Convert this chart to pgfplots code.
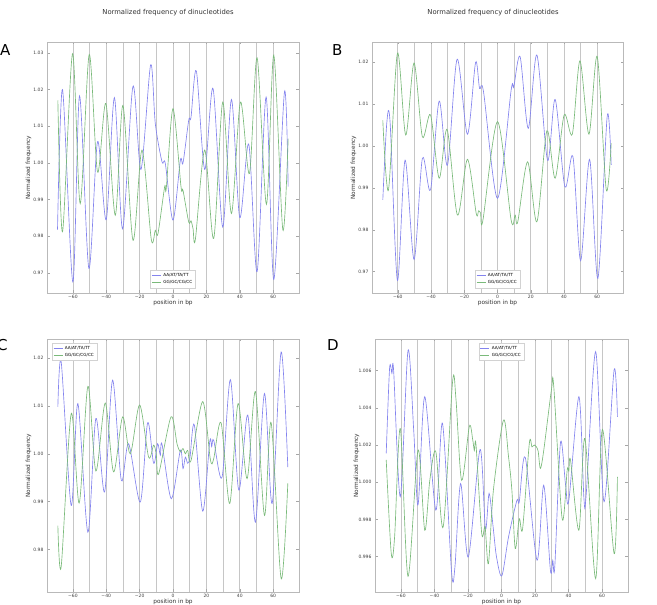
\documentclass[border=0pt]{standalone}
\usepackage{fontspec}
\setmainfont{DejaVu Sans}
\usepackage{pgfplots}
\pgfplotsset{compat=1.18}

\definecolor{aat}{RGB}{132,132,238}
\definecolor{ggc}{RGB}{122,186,122}

\pgfplotsset{
  panel/.style={
    scale only axis, width=252pt, height=252pt,
    xmin=-75.5, xmax=75.5,
    xtick={-60,-40,...,60},
    xticklabels={−60,−40,−20,0,20,40,60},
    minor xtick={-50,-30,...,50},
    xmajorgrids, xminorgrids,
    major grid style={gray!45, line width=0.6pt},
    minor grid style={gray!45, line width=0.6pt},
    tick align=inside, major tick length=2.5pt, minor tick length=0pt,
    axis line style={gray!55, line width=0.5pt},
    tick style={gray!70, line width=0.4pt},
    ticklabel style={font=\fontsize{4.5}{5}\selectfont, text=black!75},
    xticklabel style={yshift=1.5pt},
    /pgf/number format/assume math mode=true,
    yticklabel style={/pgf/number format/.cd, fixed, fixed zerofill, precision=2},
    xlabel={position in bp}, ylabel={Normalized frequency},
    label style={font=\fontsize{5.8}{6.5}\selectfont, text=black!80},
    xlabel style={at={(axis description cs:0.5,-0.016)}, anchor=north},
    ylabel style={at={(axis description cs:-0.048,0.5)}, anchor=south},
    every axis plot/.append style={line width=0.65pt, smooth, tension=0.5, no markers},
    legend style={font=\fontsize{4.2}{5}\selectfont, draw=gray!35, fill=white,
      inner sep=1pt, row sep=-1.5pt, legend cell align=left},
    legend image code/.code={\draw[#1] (0pt,0pt) -- (9pt,0pt);},
  },
  aa/.style={color=aat},
  gg/.style={color=ggc},
}

\begin{document}
\begin{tikzpicture}
\useasboundingbox (0pt,0pt) rectangle (657pt,605pt);
\clip (0pt,0pt) rectangle (657pt,605pt);

% ---------- A ----------
\begin{axis}[panel, at={(47pt,312pt)}, anchor=south west, height=251pt,
  ymin=0.9645, ymax=1.033, ytick={0.97,0.98,...,1.031},
  legend style={at={(0.5,0.02)}, anchor=south}]
\addplot[aa] coordinates {(-69.2,0.9818) (-66.2,1.0200) (-60,0.9675) (-56,1.0183)
 (-50.4,0.9712) (-45.2,1.0058) (-40,0.9845) (-35.1,1.0178) (-30.2,0.9820) (-24,1.0209)
 (-19.2,0.9982) (-13.4,1.0268) (-10.6,1.0107) (-6.6,1.0003) (-4.6,0.9998) (0,0.9844)
 (4.4,1.0007) (6,1.0000) (9.4,1.0116) (10.8,1.0125) (14,1.0251) (19,0.9982) (24,1.0203)
 (29.8,0.9825) (35,1.0173) (40,0.9851) (45.4,1.0051) (50.4,0.9703) (55.8,1.0180)
 (60.4,0.9682) (66.8,1.0194) (69,0.9935)};
\addplot[gg] coordinates {(-69,1.0171) (-66.2,0.9812) (-60.2,1.0298) (-55.6,0.9889)
 (-50.2,1.0296) (-45.2,0.9975) (-40.2,1.0162) (-34.6,0.9857) (-30,1.0157) (-24,0.9789)
 (-18.6,1.0035) (-13,0.9791) (-10.6,0.9816) (-9,0.9807) (-5,0.9935) (-4,0.9932)
 (0,1.0148) (4.8,0.9935) (6,0.9925) (9.4,0.9839) (10.8,0.9842) (12,0.9821) (13.4,0.9791)
 (19,1.0035) (24.4,0.9794) (29.8,1.0166) (35,0.9862) (40.4,1.0166) (45.8,0.9971)
 (50.4,1.0287) (56,0.9887) (60.4,1.0294) (65.8,0.9818) (69,1.0066)};
\legend{AA/AT/TA/TT, GG/GC/CG/CC}
\end{axis}

% ---------- B ----------
\begin{axis}[panel, at={(372pt,312pt)}, anchor=south west, width=251pt, height=251pt,
  ymin=0.9649, ymax=1.0248, ytick={0.97,0.98,...,1.021},
  legend style={at={(0.5,0.02)}, anchor=south}]
\addplot[aa] coordinates {(-69,0.9871) (-66.6,1.0055) (-64.6,1.0055) (-60.2,0.9679)
 (-55.6,0.9966) (-50.2,0.9729) (-45.2,0.9970) (-40.3,0.9895) (-35.1,1.0107) (-30.1,0.9954)
 (-24.3,1.0207) (-18.1,1.0028) (-13.2,1.0199) (-10.8,1.0137) (-8.4,1.0129) (0,0.9875)
 (8.2,1.0133) (9.8,1.0141) (13.6,1.0213) (18.5,1.0042) (23.7,1.0217) (30.1,0.9966)
 (34.7,1.0111) (40.5,0.9903) (45.4,0.9974) (50,0.9726) (55.4,0.9968) (60.4,0.9684)
 (66,1.0071) (68.4,0.9955)};
\addplot[gg] coordinates {(-69,1.0061) (-65.6,0.9895) (-60.2,1.0221) (-55.2,1.0026)
 (-50.2,1.0198) (-45.2,1.0022) (-40.3,1.0074) (-35.1,0.9923) (-30.3,1.0039) (-24.1,0.9835)
 (-18.1,0.9968) (-12.8,0.9839) (-11.4,0.9845) (-10.2,0.9840) (-8.8,0.9822) (0,1.0058)
 (8.2,0.9823) (10.6,0.9835) (12.2,0.9819) (18.1,0.9962) (23.7,0.9819) (29.7,1.0036)
 (34.7,0.9923) (40.1,1.0074) (45,1.0028) (49.6,1.0203) (55,1.0028) (60,1.0213)
 (65.4,0.9896) (68.4,1.0006)};
\legend{AA/AT/TA/TT, GG/GC/CG/CC}
\end{axis}

% ---------- C ----------
\begin{axis}[panel, at={(47pt,13pt)}, anchor=south west, height=253pt,
  ymin=0.9711, ymax=1.024, ytick={0.98,0.99,...,1.021},
  legend style={at={(0.02,0.985)}, anchor=north west}]
\addplot[aa] coordinates {(-69,1.0098) (-67,1.0192) (-61,0.9892) (-57,1.0105)
 (-51,0.9836) (-46.2,1.0074) (-41,0.9920) (-36.2,1.0154) (-31,0.9945) (-26.6,1.0021)
 (-19.6,0.9899) (-15.2,1.0065) (-11.6,0.9980) (-9.2,1.0021) (-7.6,0.9997) (-6.6,1.0020)
 (-1,0.9906) (4.4,1.0007) (6,0.9969) (7.4,0.9993) (8.8,0.9980) (10.2,0.9993)
 (12.8,1.0060) (17.8,0.9880) (22,1.0025) (23.2,1.0015) (24.4,1.0028) (29.4,0.9951)
 (34.4,1.0155) (39.4,0.9924) (44.8,1.0081) (49.4,0.9857) (54.8,1.0126) (59.4,0.9896)
 (64.8,1.0213) (68.8,0.9972)};
\addplot[gg] coordinates {(-69,0.9850) (-67,0.9764) (-61,1.0084) (-56.2,0.9897)
 (-51,1.0141) (-46.2,0.9964) (-40.6,1.0106) (-35.6,0.9962) (-30.2,1.0077) (-25.6,1.0000)
 (-20,1.0102) (-14.6,0.9993) (-11.6,1.0018) (-10,0.9998) (-8.6,0.9958) (-1.2,1.0077)
 (2.4,1.0021) (4.4,1.0004) (6,1.0011) (7.4,1.0000) (8.8,1.0007) (10.8,0.9986)
 (17.8,1.0109) (22.4,0.9988) (24.4,0.9990) (28.8,1.0065) (34,0.9896) (39,1.0105)
 (44.4,0.9948) (49.4,1.0130) (54.8,0.9871) (58.8,1.0065) (64.8,0.9739) (68.8,0.9938)};
\legend{AA/AT/TA/TT, GG/GC/CG/CC}
\end{axis}

% ---------- D ----------
\begin{axis}[panel, at={(375pt,13pt)}, anchor=south west, width=253pt, height=253pt,
  ymin=0.9941, ymax=1.0077, ytick={0.996,0.998,1.000,1.002,1.004,1.006},
  yticklabels={0.996,0.998,1.000,1.002,1.004,1.006},
  legend style={at={(0.5,0.985)}, anchor=north}]
\addplot[aa] coordinates {(-68.8,1.00155) (-66.8,1.00612) (-65.4,1.00585) (-64.4,1.00603)
 (-60.4,0.99922) (-55.8,1.00707) (-52.4,1.0028) (-49.8,0.99878) (-45.8,1.0046)
 (-39.2,0.99850) (-35.2,1.00316) (-29.8,0.99518) (-27.8,0.99544) (-24.4,0.99993)
 (-19.8,0.99598) (-12.8,1.00176) (-9.6,0.99750) (-7.4,0.99940) (-5,0.99760) (-3,0.99600)
 (0.2,0.99497) (4.2,0.99706) (9.2,0.99903) (10.6,0.99895) (14.2,1.00133) (21.2,0.99581)
 (25.2,0.99984) (29.2,0.99526) (30.6,0.99580) (31.8,0.99545) (35.2,1.00212)
 (38.2,0.99990) (40.2,0.99903) (46.2,1.0046) (49.2,0.99913) (50.6,0.99940)
 (56.2,1.00702) (61.2,0.99895) (67.2,1.00603) (69.2,1.00352)};
\addplot[gg] coordinates {(-68.8,1.0012) (-65.8,0.99617) (-63.8,0.99706) (-60.4,1.00289)
 (-55.8,0.99494) (-49.8,1.00172) (-45.8,0.99742) (-42.8,1.0001) (-39.2,1.00164)
 (-34.8,0.99760) (-29.2,1.00540) (-27.2,1.0045) (-23.8,1.00010) (-19.2,1.00300)
 (-17.2,1.00230) (-16.2,1.00170) (-15.2,1.00200) (-11.8,0.99724) (-9.8,0.99760)
 (-7.8,0.99562) (-4.8,0.99960) (1.2,1.00334) (4.2,1.00137) (6.2,0.99957) (8.2,0.99643)
 (10.6,0.99804) (12.6,0.99750) (16.6,1.00208) (18.2,1.00190) (19.8,1.00200)
 (21.8,1.00170) (23.2,1.00074) (25.2,1.00170) (29.8,1.00496) (31.2,1.00514)
 (36.2,0.99804) (39.2,1.00065) (40.2,1.0006) (41.2,1.00119) (46.2,0.99742)
 (49.8,1.00235) (56.2,0.99482) (60.2,1.00284) (67.2,0.99617) (69.2,1.00029)};
\legend{AA/AT/TA/TT, GG/GC/CG/CC}
\end{axis}

% titles and panel letters
\node[font=\fontsize{6.8}{8}\selectfont, text=black!80] at (168pt,592pt) {Normalized frequency of dinucleotides};
\node[font=\fontsize{6.8}{8}\selectfont, text=black!80] at (493pt,592pt) {Normalized frequency of dinucleotides};
\node[font=\fontsize{15}{17}\selectfont, anchor=west, inner sep=0pt] at (0pt,555pt) {A};
\node[font=\fontsize{15}{17}\selectfont, anchor=west, inner sep=0pt] at (332pt,555pt) {B};
\node[font=\fontsize{15}{17}\selectfont, anchor=west, inner sep=0pt] at (-3pt,260pt) {C};
\node[font=\fontsize{15}{17}\selectfont, anchor=west, inner sep=0pt] at (327pt,260pt) {D};
\end{tikzpicture}
\end{document}
